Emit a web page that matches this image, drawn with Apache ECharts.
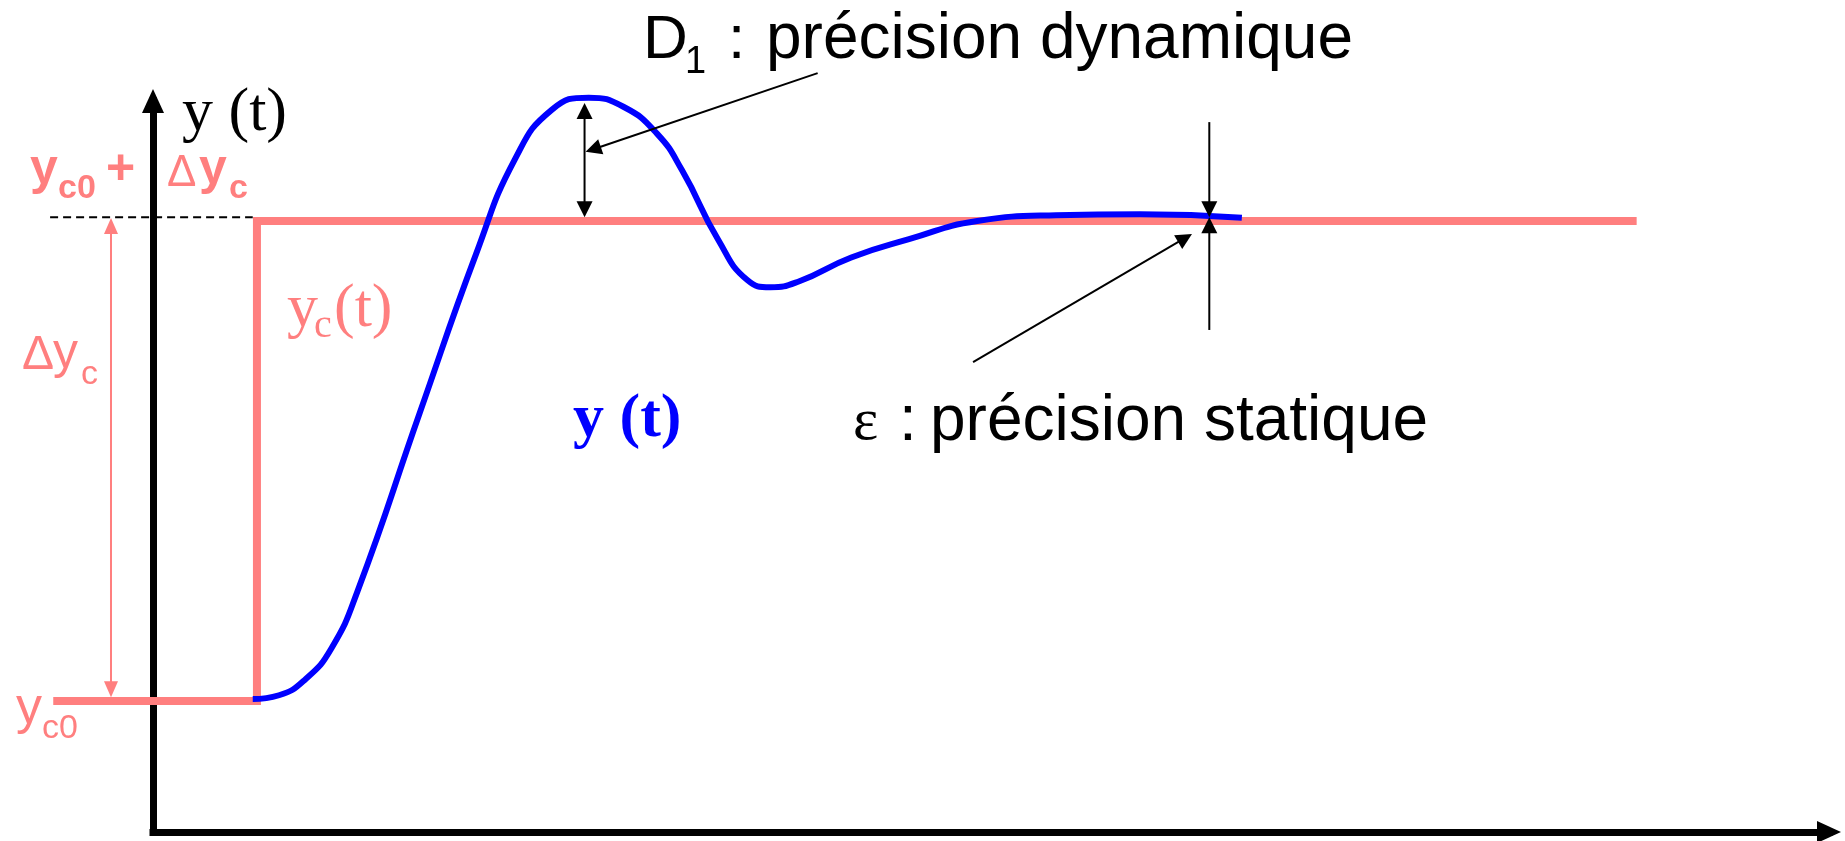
<!DOCTYPE html>
<html>
<head>
<meta charset="utf-8">
<title>Réponse indicielle</title>
<script src="https://cdn.jsdelivr.net/npm/echarts@6/dist/echarts.min.js"></script>
<style>
  html, body { margin: 0; padding: 0; background: #fff; }
  #chart { width: 1845px; height: 841px; }
</style>
</head>
<body>
<div id="chart"></div>
<script>
// consigne yc(t) : échelon de yc0 (= 0) à yc0 + Δyc (= 1)
var consigneT = [-9.5, 9.9, 9.9, 141.3];
var consigneY = [0, 0, 1, 1];

// réponse y(t)
var reponseT = [9.5, 12.0, 14.5, 17.0, 19.5, 25.4, 30.8, 34.5, 38.0, 41.5, 44.8, 48.0, 50.4, 53.8, 56.6, 58.8,
    61.5, 66.5, 72.0, 78.5, 86.0, 94.0, 103.7];
var reponseY = [0.004, 0.012, 0.045, 0.110, 0.230, 0.600, 0.933, 1.130, 1.232, 1.257, 1.238, 1.182, 1.105, 0.962, 0.877, 0.862,
    0.874, 0.924, 0.962, 1.000, 1.012, 1.014, 1.007];

// pointillés au niveau yc0 + Δyc
var repereT = [-9.8, 9.5];
var repereY = [1.008, 1.008];

// flèches : [t1, y1, t2, y2, pointes (1 = à l'arrivée, 2 = aux deux bouts)]
var flechesNoires = [
    [41.1, 1.008, 41.1, 1.246, 2],    // D1
    [63.3, 1.308, 41.2, 1.144, 1],    // renvoi D1
    [100.6, 1.206, 100.6, 1.008, 1],  // ε haut
    [100.6, 0.773, 100.6, 1.008, 1],  // ε bas
    [78.1, 0.706, 98.95, 0.973, 1]    // renvoi ε
];
var flechesRoses = [
    [-4.0, 0.008, -4.0, 1.006, 2]     // Δyc
];

var ROSE = '#FF7F7F';
var SANS = '"Liberation Sans", Arial, sans-serif';
var SERIF = '"Liberation Serif", "Times New Roman", serif';

function zip(a, b) {
    var out = [];
    for (var i = 0; i < a.length; i++) {
        out.push([a[i], b[i]]);
    }
    return out;
}

// flèche : trait + pointes triangulaires
function renderFleche(couleur, epaisseur, largeur, longueur) {
    return function (params, api) {
        var a = api.coord([api.value(0), api.value(1)]);
        var b = api.coord([api.value(2), api.value(3)]);
        var pointes = api.value(4);
        var dx = b[0] - a[0], dy = b[1] - a[1];
        var len = Math.sqrt(dx * dx + dy * dy);
        var ux = dx / len, uy = dy / len;

        function pointe(tip, sx, sy) {
            var bx = tip[0] - sx * longueur, by = tip[1] - sy * longueur;
            return {
                type: 'polygon',
                shape: { points: [[tip[0], tip[1]], [bx - sy * largeur / 2, by + sx * largeur / 2], [bx + sy * largeur / 2, by - sx * largeur / 2]] },
                style: { fill: couleur }
            };
        }

        var debut = a;
        var fin = [b[0] - ux * longueur * 0.8, b[1] - uy * longueur * 0.8];
        var enfants = [pointe(b, ux, uy)];
        if (pointes === 2) {
            debut = [a[0] + ux * longueur * 0.8, a[1] + uy * longueur * 0.8];
            enfants.push(pointe(a, -ux, -uy));
        }
        enfants.unshift({
            type: 'line',
            shape: { x1: debut[0], y1: debut[1], x2: fin[0], y2: fin[1] },
            style: { stroke: couleur, lineWidth: epaisseur }
        });
        return { type: 'group', children: enfants };
    };
}

// texte posé sur sa ligne de base
function texte(str, x, base, taille, famille, poids, couleur) {
    return {
        type: 'text',
        x: x,
        y: base - 0.25 * taille,
        silent: true,
        z: 10,
        style: {
            text: str,
            font: poids + ' ' + taille + 'px ' + famille,
            fill: couleur,
            align: 'left', verticalAlign: 'middle',
            textAlign: 'left', textVerticalAlign: 'middle'
        }
    };
}

var axeCache = {
    axisLine: { show: false },
    axisTick: { show: false },
    axisLabel: { show: false },
    splitLine: { show: false }
};

function axeVisible(extra) {
    return Object.assign({
        type: 'value',
        gridIndex: 0,
        axisLine: {
            onZero: false,
            symbol: ['none', 'triangle'],
            symbolSize: [22, 24],
            lineStyle: { color: '#000', width: 7, cap: 'square' }
        },
        axisTick: { show: false },
        axisLabel: { show: false },
        splitLine: { show: false }
    }, extra);
}

var myChart = echarts.init(document.getElementById('chart'));

var option = {
    animation: false,
    backgroundColor: '#fff',
    grid: [
        // axes dessinés
        { left: 153, right: 16, top: 101, bottom: 9 },
        // repère des courbes, même échelle mais sur toute la figure
        { left: 0, right: 0, top: 0, bottom: 9 }
    ],
    xAxis: [
        axeVisible({ min: 0, max: 159.62 }),
        Object.assign({ type: 'value', gridIndex: 1, min: -14.5714, max: 161.143 }, axeCache)
    ],
    yAxis: [
        axeVisible({ min: -0.2729, max: 1.25 }),
        Object.assign({ type: 'value', gridIndex: 1, min: -0.2729, max: 1.4604 }, axeCache)
    ],
    series: [{
        name: 'yc(t)',
        type: 'line',
        xAxisIndex: 1, yAxisIndex: 1,
        data: zip(consigneT, consigneY),
        symbol: 'none',
        clip: false,
        silent: true,
        z: 2,
        lineStyle: { color: ROSE, width: 8, join: 'miter', cap: 'butt' }
    }, {
        name: 'repère',
        type: 'line',
        xAxisIndex: 1, yAxisIndex: 1,
        data: zip(repereT, repereY),
        symbol: 'none',
        clip: false,
        silent: true,
        z: 2,
        lineStyle: { color: '#000', width: 2, type: [8, 5] }
    }, {
        name: 'y(t)',
        type: 'line',
        xAxisIndex: 1, yAxisIndex: 1,
        data: zip(reponseT, reponseY),
        symbol: 'none',
        smooth: 0.5,
        clip: false,
        silent: true,
        z: 3,
        lineStyle: { color: '#0000FF', width: 6 }
    }, {
        type: 'custom',
        xAxisIndex: 1, yAxisIndex: 1,
        data: flechesNoires,
        renderItem: renderFleche('#000', 2, 16, 16),
        clip: false,
        silent: true,
        z: 4
    }, {
        type: 'custom',
        xAxisIndex: 1, yAxisIndex: 1,
        data: flechesRoses,
        renderItem: renderFleche(ROSE, 2, 14, 16),
        clip: false,
        silent: true,
        z: 4
    }],
    graphic: {
        elements: [
            // axe vertical
            texte('y (t)', 182, 129, 62, SERIF, 'normal', '#000'),
            // yc0 + Δyc
            texte('y', 30, 183, 50, SANS, 'bold', ROSE),
            texte('c0', 58, 197, 34, SANS, 'bold', ROSE),
            texte('+', 106, 183, 50, SANS, 'bold', ROSE),
            texte('Δ', 167, 185, 44, SANS, 'normal', ROSE),
            texte('y', 199, 183, 50, SANS, 'bold', ROSE),
            texte('c', 229, 197, 34, SANS, 'bold', ROSE),
            // Δyc
            texte('Δ', 22, 368, 48, SANS, 'normal', ROSE),
            texte('y', 53, 367, 50, SANS, 'normal', ROSE),
            texte('c', 81, 383, 34, SANS, 'normal', ROSE),
            // yc0
            texte('y', 16, 722, 52, SANS, 'normal', ROSE),
            texte('c0', 42, 737, 34, SANS, 'normal', ROSE),
            // yc(t)
            texte('y', 287, 325, 62, SERIF, 'normal', ROSE),
            texte('c', 314, 336, 40, SERIF, 'normal', ROSE),
            texte('(t)', 334, 325, 62, SERIF, 'normal', ROSE),
            // y(t)
            texte('y (t)', 573, 435, 62, SERIF, 'bold', '#0000FF'),
            // D1
            texte('D', 643, 56, 62, SANS, 'normal', '#000'),
            texte('1', 685, 72, 38, SANS, 'normal', '#000'),
            texte(':', 728, 56, 62, SANS, 'normal', '#000'),
            texte('précision dynamique', 766, 56, 64, SANS, 'normal', '#000'),
            // ε
            texte('ε', 853, 438, 60, SERIF, 'normal', '#000'),
            texte(':', 899, 438, 64, SANS, 'normal', '#000'),
            texte('précision statique', 930, 438, 64, SANS, 'normal', '#000')
        ]
    }
};

myChart.setOption(option);
</script>
</body>
</html>
